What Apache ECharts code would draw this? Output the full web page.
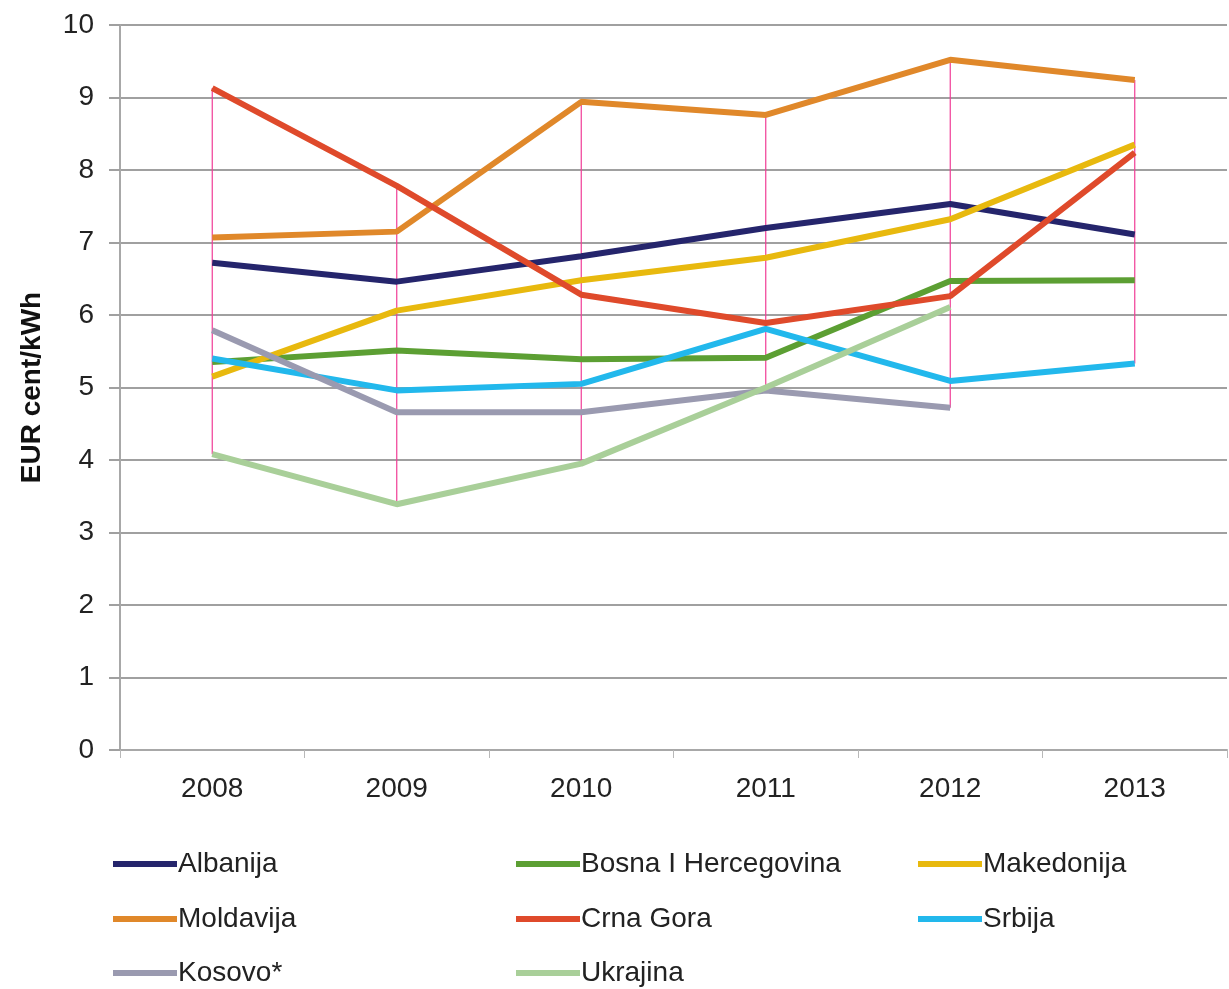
<!DOCTYPE html>
<html>
<head>
<meta charset="utf-8">
<script src="https://cdn.jsdelivr.net/npm/echarts@6/dist/echarts.min.js"></script>
<style>
html,body{margin:0;padding:0;background:#fff;}
#main{width:1229px;height:989px;}
</style>
</head>
<body>
<div id="main"></div>
<script>
var years = ['2008','2009','2010','2011','2012','2013'];
var yTicks = [0,1,2,3,4,5,6,7,8,9,10];

var albanija   = [6.72, 6.46, 6.81, 7.20, 7.53, 7.11];
var bosna      = [5.35, 5.51, 5.39, 5.41, 6.47, 6.48];
var makedonija = [5.15, 6.06, 6.48, 6.79, 7.32, 8.35];
var moldavija  = [7.07, 7.15, 8.94, 8.76, 9.52, 9.24];
var crnaGora   = [9.13, 7.78, 6.28, 5.89, 6.26, 8.24];
var srbija     = [5.40, 4.96, 5.05, 5.81, 5.09, 5.33];
var kosovo     = [5.79, 4.66, 4.66, 4.96, 4.72, null];
var ukrajina   = [4.08, 3.39, 3.95, 5.00, 6.11, null];

var font = 'Liberation Sans, Arial, sans-serif';

function createLineChart(id) {
    var chart = echarts.init(document.getElementById(id));

    var names = ['Albanija','Bosna I Hercegovina','Makedonija','Moldavija','Crna Gora','Srbija','Kosovo*','Ukrajina'];
    var values = [albanija, bosna, makedonija, moldavija, crnaGora, srbija, kosovo, ukrajina];
    var colors = ['#25256c','#5c9f33','#e8b90e','#e0882a','#df4a2b','#22b8ec','#9a9ab0','#a9cf99'];

    // high-low linije po godini (kao u Excelu)
    var hiLo = [];
    for (var i = 0; i < years.length; i++) {
        var lo = Infinity, hi = -Infinity;
        for (var j = 0; j < values.length; j++) {
            var v = values[j][i];
            if (v === null) continue;
            if (v < lo) lo = v;
            if (v > hi) hi = v;
        }
        hiLo.push([i, lo, hi]);
    }

    var series = [{
        type: 'custom',
        z: 1,
        silent: true,
        data: hiLo,
        renderItem: function (params, api) {
            var p1 = api.coord([api.value(0), api.value(1)]);
            var p2 = api.coord([api.value(0), api.value(2)]);
            return {
                type: 'line',
                shape: {x1: p1[0], y1: p1[1], x2: p2[0], y2: p2[1]},
                style: {stroke: '#f03c96', lineWidth: 1.2}
            };
        }
    }];
    for (var k = 0; k < names.length; k++) {
        series.push({
            name: names[k],
            type: 'line',
            z: 2,
            data: values[k],
            symbol: 'none',
            color: colors[k],
            lineStyle: {width: 6, color: colors[k]}
        });
    }

    // legenda: 3 kolone x 3 reda, svaka stavka posebno
    var colX = [108, 511, 913];
    var rowY = [845, 900, 954];
    var legends = [];
    for (var n = 0; n < names.length; n++) {
        legends.push({
            left: colX[n % 3],
            top: rowY[Math.floor(n / 3)],
            icon: 'rect',
            itemWidth: 64,
            itemHeight: 6,
            textStyle: {fontFamily: font, fontSize: 28, color: '#222', padding: [0,0,0,-4]},
            data: [names[n]]
        });
    }

    var option = {
        animation: false,
        backgroundColor: '#fff',
        grid: {left: 120, right: 2, top: 25, bottom: 239, containLabel: false},
        legend: legends,
        xAxis: {
            type: 'category',
            data: years,
            boundaryGap: true,
            axisLine: {lineStyle: {color: '#a8a8a8', width: 2}},
            axisTick: {show: true, length: 8, lineStyle: {color: '#b8b8b8', width: 1}},
            axisLabel: {fontFamily: font, fontSize: 28, color: '#222', margin: 25}
        },
        yAxis: {
            type: 'value',
            min: yTicks[0],
            max: yTicks[yTicks.length - 1],
            interval: 1,
            name: 'EUR cent/kWh',
            nameLocation: 'middle',
            nameGap: 74,
            nameTextStyle: {fontFamily: font, fontSize: 28, fontWeight: 'bold', color: '#111'},
            axisLine: {show: true, lineStyle: {color: '#a8a8a8', width: 2}},
            axisTick: {show: true, length: 11, lineStyle: {color: '#a0a0a0', width: 2}},
            axisLabel: {fontFamily: font, fontSize: 28, color: '#222', margin: 26},
            splitLine: {lineStyle: {color: '#a0a0a0', width: 2}}
        },
        series: series
    };
    chart.setOption(option);
    return chart;
}

createLineChart('main');
</script>
</body>
</html>
